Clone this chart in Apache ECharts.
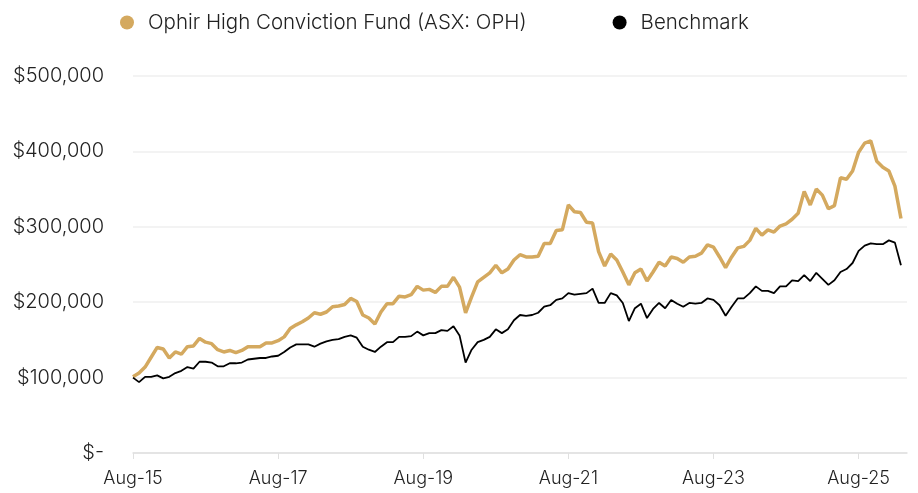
<!DOCTYPE html>
<html>
<head>
<meta charset="utf-8">
<script src="https://cdn.jsdelivr.net/npm/echarts@6/dist/echarts.min.js"></script>
<style>
  html, body { margin: 0; padding: 0; background: #fff; }
  #ophChart { width: 918px; height: 493px; }
</style>
</head>
<body>
<div id="ophChart"></div>
<script>
// months Aug-15 .. Apr-26 (last category left empty)
var monthNames = ['Jan','Feb','Mar','Apr','May','Jun','Jul','Aug','Sep','Oct','Nov','Dec'];
var months = [];
for (var m = 7, y = 15; months.length < 129; m++) {
    if (m > 11) { m = 0; y++; }
    months.push(monthNames[m] + '-' + y);
}

// growth of $100,000, values in $ thousands
var fundK = [
    101,106,114,127,140,138,126,134,131,141,142,152,147,145,137,134,136,133,136,141,
    141,141,146,146,149,154,165,170,174,179,186,184,187,194,195,197,205,201,183,179,
    171,187,198,198,208,207,210,221,216,217,213,221,221,233,220,186,207,227,233,239,
    249,239,244,256,263,260,260,261,278,278,295,296,329,320,319,306,305,267,248,264,
    256,240,223,239,244,228,240,253,248,260,258,253,260,261,265,276,273,260,246,260,
    272,274,282,298,289,296,293,301,304,310,318,347,329,350,342,324,328,365,363,374,
    399,411,414,387,379,374,354,311
];
var benchK = [
    100,94,101,101,103,99,101,106,109,114,112,121,121,120,115,115,119,119,120,124,
    125,126,126,128,129,134,140,144,144,144,141,145,148,150,151,154,156,153,141,137,
    134,141,147,147,154,154,155,161,156,159,159,163,162,168,156,120,137,147,150,154,
    164,159,164,176,183,182,183,186,194,196,203,205,212,210,211,212,218,199,199,212,
    209,199,175,192,198,179,191,199,192,203,198,194,199,198,199,205,203,196,182,194,
    205,205,212,221,215,215,212,221,221,229,228,236,228,239,231,223,229,240,244,252,
    268,275,278,277,277,282,279,249
];

var fundName = 'Ophir High Conviction Fund (ASX: OPH)';
var benchName = 'Benchmark';

var myChart = echarts.init(document.getElementById('ophChart'));
var txtFont = 'Inter, "Open Sans", sans-serif';

option = {
    animation: false,
    legend: {
        top: 7,
        left: 115,
        itemGap: 86,
        icon: 'circle',
        itemWidth: 14,
        itemHeight: 14,
        textStyle: {
            fontFamily: txtFont,
            fontWeight: 300,
            fontSize: 20.5,
            color: '#222',
            padding: [0, 0, 0, 9]
        },
        data: [fundName, benchName]
    },
    grid: {
        left: 133,
        right: 11,
        top: 76,
        bottom: 40
    },
    xAxis: {
        type: 'category',
        boundaryGap: false,
        data: months,
        axisLine: { lineStyle: { color: '#e0e0e0', width: 1.5 } },
        axisTick: { interval: 23, length: 6, lineStyle: { color: '#e0e0e0' } },
        axisLabel: {
            interval: 23,
            margin: 17,
            fontFamily: txtFont,
            fontWeight: 300,
            fontSize: 18,
            color: '#222'
        }
    },
    yAxis: {
        type: 'value',
        min: 0,
        max: 500000,
        interval: 100000,
        axisLine: { show: false },
        axisTick: { show: false },
        splitLine: { lineStyle: { color: '#efefef', width: 1.5 } },
        axisLabel: {
            margin: 29,
            fontFamily: txtFont,
            fontWeight: 300,
            fontSize: 20,
            color: '#222',
            formatter: function (v) {
                return v === 0 ? '$-' : '$' + v.toLocaleString('en-US');
            }
        }
    },
    series: [
        {
            name: fundName,
            type: 'line',
            showSymbol: false,
            data: fundK.map(function (v) { return v * 1000; }),
            itemStyle: { color: '#D4A95F' },
            lineStyle: { color: '#D4A95F', width: 3.5 },
            z: 3
        },
        {
            name: benchName,
            type: 'line',
            showSymbol: false,
            data: benchK.map(function (v) { return v * 1000; }),
            itemStyle: { color: '#000' },
            lineStyle: { color: '#000', width: 1.8 },
            z: 4
        }
    ]
};
myChart.setOption(option);
</script>
</body>
</html>
